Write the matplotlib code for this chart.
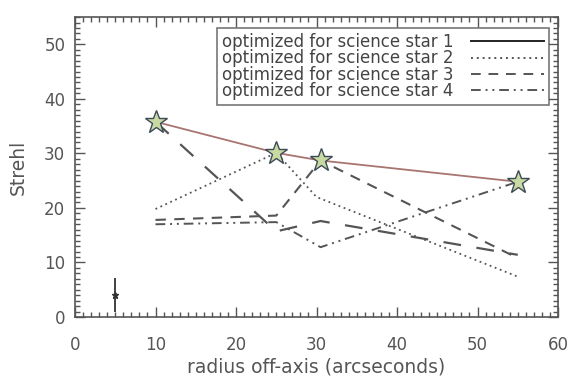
import matplotlib.pyplot as plt
from matplotlib.lines import Line2D
from matplotlib.ticker import MultipleLocator

RADIUS = [10, 25, 30.5, 55]
STAR_STREHL = [35.8, 30.1, 28.7, 24.8]

OPT_STAR1 = [35.8, 30.1, 28.7, 24.8]
OPT_STAR2_X = [10, 25, 30, 55]
OPT_STAR2 = [19.8, 30.1, 22.0, 7.4]
OPT_STAR3 = [17.8, 18.6, 28.7, 10.8]
OPT_STAR4_X = [10, 25, 30.5, 55]
OPT_STAR4 = [17.0, 17.4, 12.8, 24.8]
EXTRA_X = [10, 25, 30.5, 55]
EXTRA = [35.8, 15.7, 17.6, 11.4]

ERR_X = [5]
ERR_Y = [4.0]
ERR_YERR = [3.1]

LABELS = ["optimized for science star 1", "optimized for science star 2",
          "optimized for science star 3", "optimized for science star 4"]

GRAY = "#555555"

fig = plt.figure(figsize=(5.7, 3.79), dpi=100)
ax = fig.add_axes([0.1316, 0.1636, 0.8474, 0.7914])

ax.plot(RADIUS, OPT_STAR1, color="#a87470", lw=1.3, zorder=3)
ax.plot(OPT_STAR2_X, OPT_STAR2, color=GRAY, lw=1.3, linestyle=(0, (1, 2)))
ax.plot(RADIUS, OPT_STAR3, color=GRAY, lw=1.5, linestyle=(0, (5, 4)))
ax.plot(OPT_STAR4_X, OPT_STAR4, color=GRAY, lw=1.4, linestyle=(0, (5, 2.5, 1, 2.5, 1, 2.5)))
ax.plot(EXTRA_X, EXTRA, color=GRAY, lw=1.6, linestyle=(0, (8, 7)))

ax.plot(RADIUS, STAR_STREHL, linestyle="none", marker="*", markersize=17,
        markerfacecolor="#c9d9a2", markeredgecolor="#3d4a58", markeredgewidth=1.0, zorder=5)

ax.errorbar(ERR_X, ERR_Y, yerr=ERR_YERR, fmt="*", color="#333333", markersize=5,
            elinewidth=1.3, capsize=0)

ax.set_xlim(0, 60)
ax.set_ylim(0, 55)
ax.xaxis.set_major_locator(MultipleLocator(10))
ax.xaxis.set_minor_locator(MultipleLocator(1))
ax.yaxis.set_major_locator(MultipleLocator(10))
ax.yaxis.set_minor_locator(MultipleLocator(1))
ax.tick_params(which="both", direction="in", top=True, right=True, colors=GRAY,
               labelcolor=GRAY, labelsize=12, width=1)
ax.tick_params(which="major", length=7)
ax.tick_params(which="minor", length=3.5)
ax.tick_params(axis="x", pad=14)
ax.tick_params(axis="y", pad=7)
for s in ax.spines.values():
    s.set_color(GRAY)
    s.set_linewidth(1.2)

ax.set_xlabel("radius off-axis (arcseconds)", color=GRAY, fontsize=13.5, labelpad=2)
ax.set_ylabel("Strehl", color=GRAY, fontsize=13.5, labelpad=12)

styles = ["-", (0, (1, 2)), (0, (5, 4)), (0, (5, 2.5, 1, 2.5, 1, 2.5))]
handles = [Line2D([], [], color="#222222" if i == 0 else GRAY, lw=1.4, linestyle=st)
           for i, st in enumerate(styles)]
leg = ax.legend(handles, LABELS, loc="upper right", bbox_to_anchor=(0.981, 0.963),
                markerfirst=False, handlelength=4.4, fontsize=12, labelspacing=-0.1,
                frameon=True, fancybox=False, borderaxespad=0, borderpad=0.3,
                handletextpad=1.0, labelcolor="#444444")
leg.get_frame().set_edgecolor(GRAY)
leg.get_frame().set_linewidth(1.2)

fig.savefig("out.png", dpi=100, facecolor="white")
